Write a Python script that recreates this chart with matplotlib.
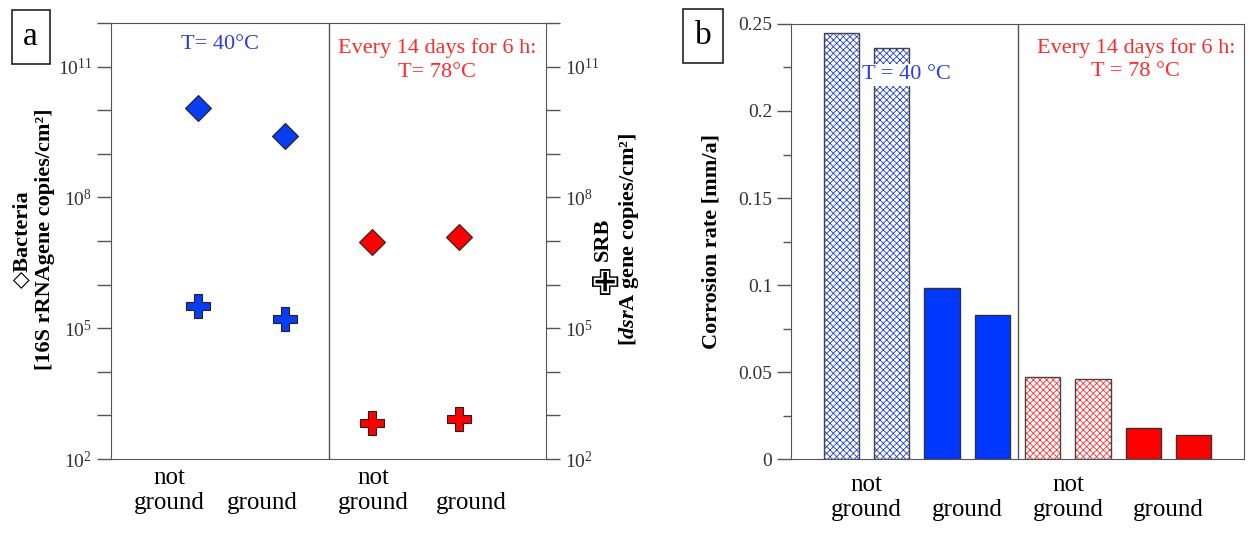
import matplotlib
matplotlib.use("Agg")
import matplotlib.pyplot as plt
from matplotlib.ticker import FixedLocator, FuncFormatter, MultipleLocator, NullLocator
import numpy as np

plt.rcParams["font.family"] = ["Liberation Serif", "DejaVu Sans"]
plt.rcParams["mathtext.fontset"] = "custom"
plt.rcParams["mathtext.rm"] = "Liberation Serif"
plt.rcParams["mathtext.it"] = "Liberation Serif:italic:bold"
plt.rcParams["mathtext.bf"] = "Liberation Serif:bold"
plt.rcParams["hatch.linewidth"] = 0.6

# panel a: gene copies (log scale)
labels_a = ["not\nground", "\nground", "not\nground", "\nground"]
label_pos_a = [0.67, 1.74, 3.01, 4.14]
x_a = [1, 2, 3, 4]
bacteria = [1.15e10, 2.6e9, 9.3e6, 1.26e7]
srb = [3.2e5, 1.66e5, 6.8e2, 8.1e2]
colors_a = ["#0a3cf0", "#0a3cf0", "#ff0000", "#ff0000"]

# panel b: corrosion rate
labels_b = ["not\nground", "\nground", "not\nground", "\nground"]
label_pos_b = [1.5, 3.5, 5.5, 7.5]
x_b = [1, 2, 3, 4, 5, 6, 7, 8]
corrosion = [0.245, 0.236, 0.098, 0.083, 0.047, 0.046, 0.018, 0.014]
hatched = [True, True, False, False, True, True, False, False]
colors_b = ["#1f3fd0", "#1f3fd0", "#0038ff", "#0038ff",
            "#ff3030", "#ff3030", "#ff0000", "#ff0000"]

BLUE_TXT = "#2a3ee0"
RED_TXT = "#ff2a2a"
SPINE = "#555555"

fig = plt.figure(figsize=(12.5, 5.44), dpi=100)

# ---------- panel a ----------
ax = fig.add_axes([0.0888, 0.1562, 0.348, 0.8015])
ax.set_yscale("log")
ax.set_xlim(0, 5)
ax.set_ylim(1e2, 1e12)
for s in ax.spines.values():
    s.set_color(SPINE)
ax.axvline(2.5, color=SPINE, lw=1)

for x, b, s, c in zip(x_a, bacteria, srb, colors_a):
    ax.plot(x, b, marker="D", ms=13, mfc=c, mec="#222222", mew=0.8, ls="none")
    ax.plot(x, s, marker="P", ms=17, mfc=c, mec="#222222", mew=0.8, ls="none")

ax.yaxis.set_major_locator(FixedLocator(10.0 ** np.arange(2, 13)))
ax.yaxis.set_minor_locator(NullLocator())


def log_fmt(v, pos):
    e = int(round(np.log10(v)))
    return f"$10^{{{e}}}$" if e in (2, 5, 8, 11) else ""


ax.yaxis.set_major_formatter(FuncFormatter(log_fmt))
ax.tick_params(axis="y", which="major", direction="out", length=10, width=1,
               color=SPINE, labelsize=14, labelcolor="#333333",
               right=True, labelright=True)
ax.set_xticks(label_pos_a)
ax.set_xticklabels(labels_a, fontsize=18, linespacing=1.15)
ax.tick_params(axis="x", length=0, pad=6)

fig.text(0.027, 0.56, "◇Bacteria\n[16S rRNAgene copies/cm²]",
         rotation=90, ha="center", va="center", fontsize=16, fontweight="bold",
         linespacing=1.2)
fig.text(0.4935, 0.56, "SRB\n[$dsr$A gene copies/cm²]",
         rotation=90, ha="center", va="center", fontsize=16, fontweight="bold",
         linespacing=1.3)
fig.text(0.4835, 0.477, "✙", family="DejaVu Sans", fontsize=26,
         ha="center", va="center")

ax.text(1.25, 10 ** 11.5, "T= 40°C", color=BLUE_TXT, fontsize=16,
        ha="center", va="center")
ax.text(3.75, 10 ** 11.15, "Every 14 days for 6 h:\nT= 78°C", color=RED_TXT,
        fontsize=16, ha="center", va="center", linespacing=1.3)

fig.text(0.0245, 0.932, "a", fontsize=24, ha="center", va="center",
         bbox=dict(boxstyle="square,pad=0.35", fc="white", ec="#222222", lw=1.2))

# ---------- panel b ----------
bx = fig.add_axes([0.6328, 0.1562, 0.3624, 0.7997])
bx.set_xlim(0, 9)
bx.set_ylim(0, 0.25)
for s in bx.spines.values():
    s.set_color(SPINE)
bx.axvline(4.5, color=SPINE, lw=1)

for x, v, h, c in zip(x_b, corrosion, hatched, colors_b):
    if h:
        bx.bar(x, v, width=0.7, color="white", edgecolor=c, hatch="xxxxx", lw=0)
        bx.bar(x, v, width=0.7, fill=False, edgecolor="#444444", lw=1)
    else:
        bx.bar(x, v, width=0.7, color=c, edgecolor="#333333", lw=1)

bx.yaxis.set_major_locator(MultipleLocator(0.05))
bx.yaxis.set_minor_locator(MultipleLocator(0.025))
bx.yaxis.set_major_formatter(FuncFormatter(lambda v, p: f"{v:g}"))
bx.tick_params(axis="y", which="major", direction="out", length=10, width=1,
               color=SPINE, labelsize=14, labelcolor="#333333")
bx.tick_params(axis="y", which="minor", direction="out", length=6, width=1,
               color=SPINE)
bx.set_xticks(label_pos_b)
bx.set_xticklabels(labels_b, fontsize=18, linespacing=1.15)
bx.tick_params(axis="x", length=0, pad=11)
bx.set_ylabel("Corrosion rate [mm/a]", fontsize=16, fontweight="bold", labelpad=12)

bx.text(2.3, 0.2208, "T = 40 °C", color=BLUE_TXT, fontsize=16, ha="center",
        va="center", bbox=dict(fc="white", ec="none", pad=1))
bx.text(6.85, 0.2296, "Every 14 days for 6 h:\nT = 78 °C", color=RED_TXT,
        fontsize=16, ha="center", va="center", linespacing=1.3)

fig.text(0.5625, 0.934, "b", fontsize=24, ha="center", va="center",
         bbox=dict(boxstyle="square,pad=0.35", fc="white", ec="#222222", lw=1.2))

fig.savefig("out.png", dpi=100)
